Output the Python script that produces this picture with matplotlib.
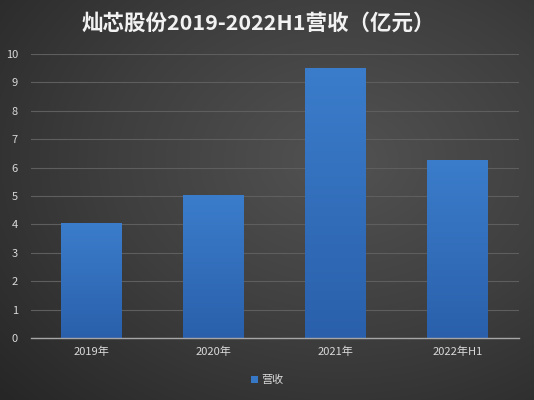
import numpy as np
import matplotlib
matplotlib.use("Agg")
import matplotlib.pyplot as plt
from matplotlib.colors import LinearSegmentedColormap

plt.rcParams['font.family'] = ['Noto Sans CJK SC', 'DejaVu Sans']

categories = ["2019年", "2020年", "2021年", "2022年H1"]
revenue = [4.05, 5.03, 9.52, 6.27]
series_name = "营收"
title = "灿芯股份2019-2022H1营收（亿元）"
yticks = [0, 1, 2, 3, 4, 5, 6, 7, 8, 9, 10]

fig = plt.figure(figsize=(5.34, 4.0), dpi=100)

# background radial gradient
bg = fig.add_axes([0, 0, 1, 1], zorder=-10)
yy, xx = np.mgrid[0:400, 0:534]
cx, cy = 340, 160
r = np.sqrt(((xx - cx) / 534) ** 2 + ((yy - cy) / 400) ** 2)
r = r / r.max()
bgcmap = LinearSegmentedColormap.from_list("bg", ["#525252", "#3e3e3e", "#262626"])
bg.imshow(r, cmap=bgcmap, aspect='auto', extent=[0, 1, 0, 1], origin='upper')
bg.set_axis_off()

ax = fig.add_axes([30.5/534, 1 - 338/400, 488/534, 284/400])
ax.patch.set_alpha(0)
x = np.arange(len(categories))
bars = ax.bar(x, revenue, width=0.5, color="#3778c6", zorder=3)
barcmap = LinearSegmentedColormap.from_list("bar", ["#2a60ab", "#3b7dcb"])
grad = np.linspace(0, 1, 256).reshape(-1, 1)
for b in bars:
    bx, by = b.get_x(), b.get_y()
    w, h = b.get_width(), b.get_height()
    im = ax.imshow(grad, cmap=barcmap, aspect='auto', origin='lower',
                   extent=[bx, bx + w, by, by + h], zorder=4)
    im.set_clip_path(b)

ax.set_xlim(-0.5, len(categories) - 0.5)
ax.set_ylim(0, 10)
ax.set_yticks(yticks)
ax.set_xticks(x)
ax.set_xticklabels(categories)
ax.tick_params(axis='both', length=0, colors="#d9d9d9", labelsize=8)
ax.tick_params(axis='y', pad=9)
ax.tick_params(axis='x', pad=6)
ax.grid(axis='y', color="#5e5e5e", linewidth=0.8, zorder=0)
for s in ['top', 'right', 'left']:
    ax.spines[s].set_visible(False)
ax.spines['bottom'].set_color("#a6a6a6")
ax.spines['bottom'].set_linewidth(1.0)
ax.spines['bottom'].set_zorder(5)

fig.text(0.484, 1 - 23/400, title, ha='center', va='center', color="#f2f2f2",
         fontsize=15.5, fontweight='bold')

leg = fig.legend([bars[0]], [series_name], loc='center', bbox_to_anchor=(0.5, 1 - 380/400),
                 frameon=False, fontsize=8, handlelength=0.6, handleheight=0.6,
                 handletextpad=0.3, labelcolor="#d9d9d9")

fig.savefig("out.png", dpi=100)
